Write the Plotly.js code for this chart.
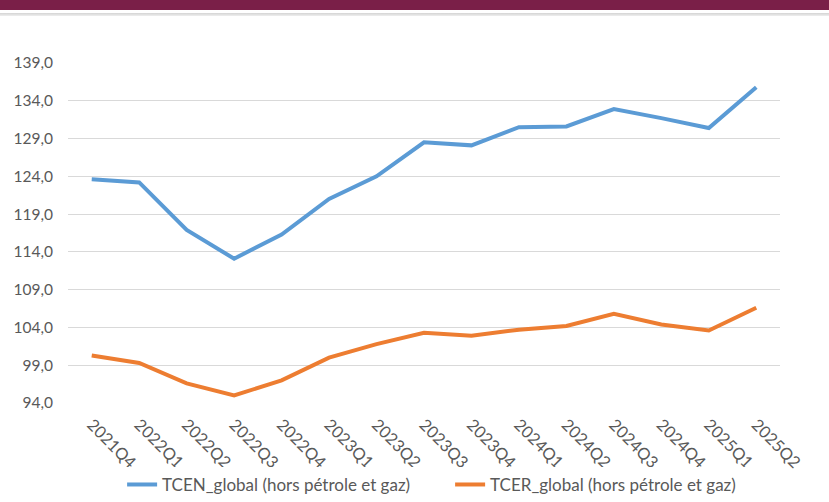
<!DOCTYPE html>
<html>
<head>
<meta charset="utf-8">
<script src="https://cdn.plot.ly/plotly-3.0.1.min.js"></script>
<style>
  html, body { margin: 0; padding: 0; background: #ffffff; }
  #wrap { position: relative; width: 829px; height: 502px; overflow: hidden; }
  #banner { position: absolute; left: 0; top: 0; width: 829px; height: 10px; background: #7A1F48; }
  #rule { position: absolute; left: 0; top: 13px; width: 829px; height: 3px; background: linear-gradient(#d4d4d4, #eeeeee); }
  #chart { position: absolute; left: 0; top: 0; width: 829px; height: 502px; }
</style>
</head>
<body>
<div id="wrap">
  <div id="chart"></div>
  <div id="banner"></div>
  <div id="rule"></div>
</div>
<script>
const quarters = ["2021Q4","2022Q1","2022Q2","2022Q3","2022Q4","2023Q1","2023Q2","2023Q3","2023Q4","2024Q1","2024Q2","2024Q3","2024Q4","2025Q1","2025Q2"];
const tcen = [123.6, 123.2, 116.9, 113.1, 116.3, 121.0, 124.0, 128.5, 128.1, 130.5, 130.6, 132.9, 131.7, 130.4, 135.8];
const tcer = [100.3, 99.3, 96.6, 95.0, 97.0, 100.0, 101.8, 103.3, 102.9, 103.7, 104.2, 105.8, 104.4, 103.6, 106.6];
const nameTcen = "TCEN_global (hors pétrole et gaz)";
const nameTcer = "TCER_global (hors pétrole et gaz)";

const fontFam = "Lato, 'Open Sans', sans-serif";
const traces = [
  { x: quarters, y: tcen, name: nameTcen, type: "scatter", mode: "lines",
    line: { color: "#5B9BD5", width: 4 }, hoverinfo: "skip" },
  { x: quarters, y: tcer, name: nameTcer, type: "scatter", mode: "lines",
    line: { color: "#ED7D31", width: 4 }, hoverinfo: "skip" }
];
const layout = {
  width: 829, height: 502,
  margin: { l: 68, r: 49, t: 63, b: 99, autoexpand: false },
  paper_bgcolor: "#ffffff", plot_bgcolor: "#ffffff",
  separators: ", ",
  font: { family: fontFam, size: 15, color: "#595959" },
  showlegend: true,
  legend: {
    orientation: "h", xref: "paper", x: 0.076, xanchor: "left",
    yref: "container", y: 0.034, yanchor: "middle",
    font: { family: fontFam, size: 17, color: "#595959" },
    entrywidth: 283, entrywidthmode: "pixels", itemwidth: 30
  },
  xaxis: {
    type: "category", range: [-0.5, 14.5], tickangle: 45, showgrid: false, zeroline: false,
    showline: false, ticks: "", ticklabelstandoff: 8, automargin: false,
    tickfont: { family: fontFam, size: 16.5, color: "#595959" }
  },
  yaxis: {
    range: [94, 139], tick0: 94, dtick: 5, tickformat: ".1f",
    showgrid: true, gridcolor: "#D9D9D9", gridwidth: 1, zeroline: false,
    showline: false, ticks: "", ticklabelstandoff: 14, automargin: false,
    tickfont: { family: fontFam, size: 15.5, color: "#595959" }
  }
};
Plotly.newPlot("chart", traces, layout, { displayModeBar: false, staticPlot: true });
</script>
</body>
</html>
